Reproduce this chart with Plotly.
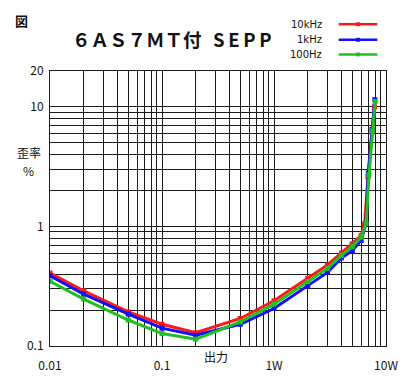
import plotly.graph_objects as go

# ---- data ----
series_names = ["10kHz", "1kHz", "100Hz"]
series_colors = ["#ff1818", "#1010ff", "#20c020"]

x_10k = [0.01, 0.02, 0.05, 0.1, 0.2, 0.5, 1, 2, 3, 4, 5, 6, 6.45, 6.9, 7.5, 7.9]
y_10k = [0.408, 0.29, 0.193, 0.152, 0.129, 0.170, 0.239, 0.368, 0.477, 0.60, 0.716, 0.84, 1.05, 2.6, 6.2, 10.0]

x_1k = [0.01, 0.02, 0.05, 0.1, 0.2, 0.5, 1, 2, 3, 4, 5, 6, 6.6, 6.95, 7.5, 7.95]
y_1k = [0.387, 0.272, 0.185, 0.141, 0.123, 0.152, 0.206, 0.319, 0.413, 0.546, 0.628, 0.763, 1.05, 2.8, 6.5, 11.5]

x_100 = [0.01, 0.02, 0.05, 0.1, 0.2, 0.5, 1, 2, 3, 4, 5, 6, 6.65, 7.05, 7.6, 8.0]
y_100 = [0.347, 0.247, 0.165, 0.127, 0.114, 0.159, 0.224, 0.345, 0.446, 0.574, 0.679, 0.813, 1.06, 2.7, 6.3, 11.1]

x_tickvals = [0.01, 0.02, 0.03, 0.04, 0.05, 0.06, 0.07, 0.08, 0.09,
              0.1, 0.2, 0.3, 0.4, 0.5, 0.6, 0.7, 0.8, 0.9,
              1, 2, 3, 4, 5, 6, 7, 8, 9, 10]
x_ticktext = ["0.01"] + [""] * 8 + ["0.1"] + [""] * 8 + ["1W"] + [""] * 8 + ["10W"]

y_tickvals = [0.1, 0.2, 0.3, 0.4, 0.5, 0.6, 0.7, 0.8, 0.9,
              1, 2, 3, 4, 5, 6, 7, 8, 9, 10, 20]
y_ticktext = ["0.1"] + [""] * 8 + ["1"] + [""] * 8 + ["10", "20"]

title_main = "６ＡＳ７ＭＴ付"
title_tail = "S\u2009E\u2009P\u2009P"
fig_label = "図"
y_label = "歪率"
y_unit = "%"
x_label = "出力"

# ---- figure ----
OFF = 8  # page body margin of the written html page
W, H = 410 - OFF, 385 - OFF
ML, MR, MT, MB = 50 - OFF, 20 - OFF, 71 - OFF, 40 - OFF
PW, PH = W - ML - MR, H - MT - MB

# helpers converting page pixel coords to paper coords
def px(xp):
    return (xp - OFF - ML) / PW

def py(yp):
    return (H - MB - (yp - OFF)) / PH

FONT = "Noto Sans CJK JP"
LFONT = "DejaVu Sans"

fig = go.Figure()
for xs, ys, name, col in [(x_10k, y_10k, series_names[0], series_colors[0]),
                          (x_1k, y_1k, series_names[1], series_colors[1]),
                          (x_100, y_100, series_names[2], series_colors[2])]:
    fig.add_trace(go.Scatter(
        x=xs, y=ys, name=name, mode="lines+markers",
        line=dict(color=col, width=3),
        marker=dict(symbol="square", size=5, color=col),
        showlegend=False,
    ))

gridc = "#1a1a1a"
fig.update_xaxes(
    type="log", range=[-2, 1],
    tickmode="array", tickvals=x_tickvals, ticktext=x_ticktext,
    showgrid=True, gridcolor=gridc, gridwidth=1,
    showline=True, linecolor=gridc, linewidth=1, mirror=True,
    ticks="", zeroline=False,
    tickfont=dict(family=FONT, size=12, color="#111"),
    ticklabelstandoff=9,
)
fig.update_yaxes(
    type="log", range=[-1, 1.30103],
    tickmode="array", tickvals=y_tickvals, ticktext=y_ticktext,
    showgrid=True, gridcolor=gridc, gridwidth=1,
    showline=True, linecolor=gridc, linewidth=1, mirror=True,
    ticks="", zeroline=False,
    tickfont=dict(family=FONT, size=12, color="#111"),
    ticklabelstandoff=3,
)

ann = []
ann.append(dict(text="<b>" + title_main + "</b>", x=px(209), y=py(38), xref="paper", yref="paper",
                showarrow=False, xanchor="right", yanchor="middle",
                font=dict(family=FONT, size=18.5, color="#111")))
ann.append(dict(text="<b>" + title_tail + "</b>", x=px(217), y=py(38), xref="paper", yref="paper",
                showarrow=False, xanchor="left", yanchor="middle",
                font=dict(family=FONT, size=18.5, color="#111")))
ann.append(dict(text="<b>" + fig_label + "</b>", x=px(20), y=1 + MT / PH, xref="paper", yref="paper",
                showarrow=False, xanchor="center", yanchor="top", borderpad=0,
                font=dict(family=FONT, size=13, color="#111")))
ann.append(dict(text=y_label, x=px(28), y=py(155), xref="paper", yref="paper",
                showarrow=False, xanchor="center", yanchor="middle",
                font=dict(family=FONT, size=12, color="#111")))
ann.append(dict(text=y_unit, x=px(28), y=py(173), xref="paper", yref="paper",
                showarrow=False, xanchor="center", yanchor="middle",
                font=dict(family=FONT, size=12, color="#111")))
ann.append(dict(text=x_label, x=px(222), y=py(364), xref="paper", yref="paper",
                showarrow=False, xanchor="center", yanchor="middle",
                font=dict(family=FONT, size=12, color="#111")))

shapes = []
leg_y = [23, 39, 54]
for name, col, ly in zip(series_names, series_colors, leg_y):
    ann.append(dict(text=name, x=px(334), y=py(ly), xref="paper", yref="paper",
                    showarrow=False, xanchor="right", yanchor="middle",
                    font=dict(family=LFONT, size=10, color="#111")))
    shapes.append(dict(type="line", xref="paper", yref="paper",
                       x0=px(349), x1=px(389), y0=py(ly), y1=py(ly),
                       line=dict(color=col, width=2.5)))
    shapes.append(dict(type="rect", xref="paper", yref="paper",
                       x0=px(367), x1=px(371), y0=py(ly - 2), y1=py(ly + 2),
                       line=dict(color=col, width=0), fillcolor=col))

fig.update_layout(
    width=W, height=H,
    margin=dict(l=ML, r=MR, t=MT, b=MB),
    paper_bgcolor="white", plot_bgcolor="white",
    annotations=ann, shapes=shapes,
    showlegend=False,
)

fig.write_html("out.html")
